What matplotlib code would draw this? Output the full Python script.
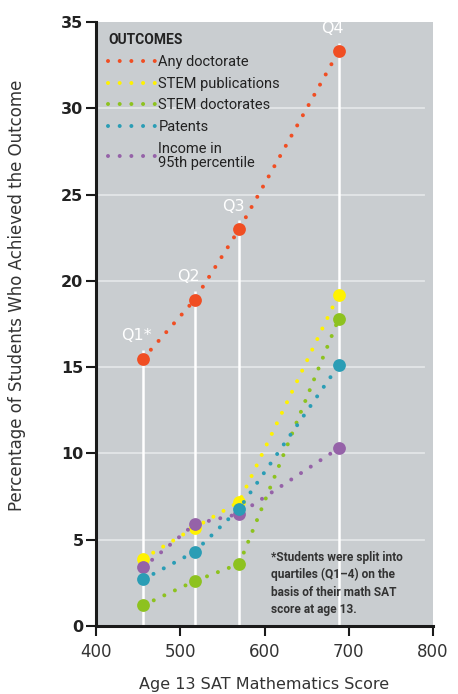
import matplotlib
matplotlib.use("Agg")
import matplotlib.pyplot as plt
from matplotlib.lines import Line2D

plt.rcParams['font.family'] = ['DejaVu Sans']

# ---- data ----
quartile_labels = ["Q1*", "Q2", "Q3", "Q4"]
sat_scores = [456, 517, 570, 688]
any_doctorate = [15.5, 18.9, 23.0, 33.3]
stem_publications = [3.9, 5.7, 7.2, 19.2]
stem_doctorates = [1.2, 2.6, 3.6, 17.8]
patents = [2.7, 4.3, 6.8, 15.1]
income_95 = [3.4, 5.9, 6.5, 10.3]

series_names = ["Any doctorate", "STEM publications", "STEM doctorates",
                "Patents", "Income in\n95th percentile"]
series_values = [any_doctorate, stem_publications, stem_doctorates, patents, income_95]
series_colors = ["#f04e23", "#fff200", "#8dc21f", "#2a9db5", "#9562a8"]
series_z = [7, 3, 4, 6, 5]

x_ticks = [400, 500, 600, 700, 800]
y_ticks = [0, 5, 10, 15, 20, 25, 30, 35]

footnote = ("*Students were split into\nquartiles (Q1\u20134) on the\n"
            "basis of their math SAT\nscore at age 13.")

W, H = 458, 694
fig = plt.figure(figsize=(W / 100, H / 100), dpi=100)
ax = fig.add_axes([96 / W, 1 - 626 / H, 337 / W, 604 / H])
ax.set_facecolor("#c9cdd0")
ax.set_xlim(400, 800)
ax.set_ylim(0, 35)

# grid lines
for yv in y_ticks[1:-1]:
    ax.plot([400, 789], [yv, yv], color="#e3e6e8", lw=1.3, zorder=1)
# vertical white lines at quartiles
ax.vlines(sat_scores, 0, [v + 0.5 for v in any_doctorate], color="white", lw=1.8, zorder=2)

dot_style = dict(linestyle=(0, (0.001, 2.9)), dash_capstyle="round", lw=2.9)
handles = []
for name, vals, col, z in zip(series_names, series_values, series_colors, series_z):
    ax.plot(sat_scores, vals, color=col, zorder=z, **dot_style)
    ax.plot(sat_scores, vals, "o", color=col, ms=9.2, mec="none", zorder=z + 0.5)
    handles.append(Line2D([0], [0], color=col, **dot_style))

for lab, xv, yv in zip(quartile_labels, sat_scores, any_doctorate):
    ax.annotate(lab, (xv, yv), xytext=(-4.5, 16.5), textcoords="offset points",
                ha="center", va="center", color="white", fontsize=11.5,
                zorder=10)

leg = ax.legend(handles, series_names, loc="upper left",
                bbox_to_anchor=(-0.012, 1.008), frameon=False,
                title="OUTCOMES",
                title_fontproperties={"weight": "bold", "size": 10, "family": "Roboto"},
                alignment="left", handlelength=3.3, handletextpad=0.15,
                labelspacing=0.53, borderpad=0.6,
                prop={"family": "Roboto", "size": 10.5})
for t in leg.get_texts():
    t.set_color("#222222")
    t.set_linespacing(1.0)
leg.get_title().set_color("#222222")

ax.text(0.52, 0.125, footnote, transform=ax.transAxes, fontsize=8.6,
        fontweight="bold", family="Roboto", color="#333333", va="top",
        ha="left", linespacing=1.45)

for s in ["top", "right"]:
    ax.spines[s].set_visible(False)
for s in ["left", "bottom"]:
    ax.spines[s].set_linewidth(2.2)
    ax.spines[s].set_color("#1a1a1a")

ax.set_xticks(x_ticks)
ax.set_yticks(y_ticks)
ax.tick_params(axis="both", direction="out", length=7, width=1.5, color="#1a1a1a")
ax.tick_params(axis="x", labelsize=12, pad=5, labelcolor="#333333")
ax.tick_params(axis="y", labelsize=11.5, pad=2, labelcolor="#222222")
for t in ax.get_yticklabels():
    t.set_fontweight("bold")

ax.set_xlabel("Age 13 SAT Mathematics Score", fontsize=11.5, color="#333333", labelpad=12)
ax.set_ylabel("Percentage of Students Who Achieved the Outcome", fontsize=12, color="#333333")
ax.yaxis.set_label_coords(-0.208, 0.547)

fig.savefig("out.png", dpi=100)
